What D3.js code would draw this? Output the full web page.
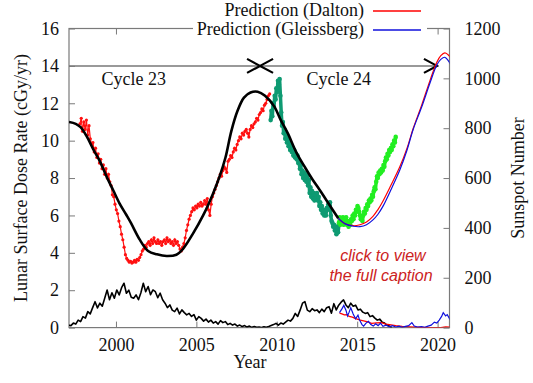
<!DOCTYPE html>
<html><head><meta charset="utf-8">
<script src="https://cdn.jsdelivr.net/npm/d3@7"></script>
<style>
html,body{margin:0;padding:0;background:#fff;}
svg{display:block;}
</style></head><body>
<svg id="chart" width="533" height="383"></svg>
<script>
// ---------------- data ----------------
const xTicks = [2000, 2005, 2010, 2015, 2020];
const yLeftTicks = [0, 2, 4, 6, 8, 10, 12, 14, 16];
const yRightTicks = [0, 200, 400, 600, 800, 1000, 1200];

// measured dose rate, cycle 23 (red)
const redStart = 1997.76, redStep = 0.0808;
const redDose = [10.9,11.2,10.5,11.0,10.6,11.1,10.3,10.8,10.1,9.8,9.9,9.4,9.6,9.1,9.3,8.8,9.0,8.5,8.7,8.2,8.5,8.0,8.2,7.8,7.6,7.1,7.0,6.6,6.3,6.1,
5.7,5.4,5.0,4.7,4.3,3.9,3.7,3.6,3.5,3.55,3.45,3.5,3.6,3.5,3.65,3.6,3.75,3.9,4.1,4.2,4.4,4.3,4.5,4.6,4.4,4.7,4.5,4.8,4.6,4.5,
4.7,4.5,4.6,4.4,4.6,4.7,4.5,4.8,4.6,4.7,4.5,4.6,4.4,4.7,4.5,4.6,4.4,4.2,4.1,4.3,4.5,4.8,5.2,5.5,5.8,6.0,6.2,6.4,6.3,6.5,
6.4,6.6,6.5,6.7,6.5,6.6,6.8,6.6,6.9,6.3,6.0,6.6,7.0,7.2,7.4,7.6,7.8,8.0,8.2,8.1,8.4,8.6,8.5,8.3,8.9,9.0,9.2,9.1,9.4,9.6,
9.5,9.8,10.0,10.2,10.1,10.4,10.3,10.5,10.6,10.4,10.2,10.6,10.8,10.7,10.9,11.0,11.2,11.1,11.4,11.5,11.7,11.6,11.9,12.0,12.2,12.4,12.5];

// measured dose rate, cycle 24 first part (teal)
const tealStart = 2009.62, tealStep = 0.0505;
const tealDose = [11.1,11.6,11.3,12.0,11.8,12.4,12.2,12.8,12.6,13.2,13.0,13.3,12.4,11.5,10.8,11.0,10.4,10.6,10.1,10.3,
9.9,10.1,9.7,9.9,9.5,9.8,9.4,9.6,9.2,9.5,9.1,9.3,9.0,9.2,8.8,8.9,8.5,8.7,8.2,8.4,
8.0,8.3,7.9,8.2,7.8,8.1,7.6,7.9,7.2,7.5,7.0,7.3,6.9,7.2,6.8,7.1,6.9,7.2,6.8,7.0,
6.5,6.7,6.3,6.5,6.1,6.3,6.0,6.2,6.0,6.4,6.3,6.6,6.5,6.7,6.0,5.7,5.6,5.4,5.5,5.2,
5.4,5.0,5.3,5.1,5.5];

// measured dose rate, cycle 24 second part (bright green)
const limeStart = 2013.86, limeStep = 0.0505;
const limeDose = [5.6,5.9,5.5,5.8,5.6,5.9,5.5,5.8,5.6,5.9,5.5,5.7,5.4,5.7,5.5,5.8,5.7,6.0,5.8,6.1,
6.0,6.3,6.2,6.5,6.4,6.2,6.0,5.8,5.9,5.7,6.0,6.2,6.1,6.4,6.3,6.6,6.5,6.8,6.7,6.9,
6.8,7.1,7.0,7.3,7.5,7.4,7.8,8.1,8.0,8.3,8.2,8.4,8.3,8.5,8.4,8.7,8.6,8.9,9.1,9.0,
9.3,9.2,9.5,9.4,9.6,9.5,9.8,9.7,10.0,9.9,10.2];

// model dose rate (black)
const modelYears = [1997.08,1997.50,1997.80,1998.20,1998.61,1999.01,1999.42,1999.82,2000.22,2000.63,2000.93,2001.49,2002.00,2002.55,2003.15,2003.76,2004.16,2004.77,2005.42,2006.04,
2006.45,2006.81,2007.17,2007.56,2007.96,2008.37,2008.81,2009.27,2009.85,2010.25,2010.68,2011.23,2011.77,2012.20,2012.67,2013.25,2013.82];
const modelDose = [11.0,10.9,10.72,10.2,9.5,8.88,8.07,7.36,6.65,6.05,5.6,4.69,4.1,3.92,3.83,3.9,4.2,5.0,6.0,7.18,
8.1,9.1,10.5,11.6,12.3,12.58,12.62,12.4,11.82,11.1,10.4,9.35,8.55,7.95,7.36,6.6,5.85];

// predictions of dose rate
const predYears = [2013.82,2014.26,2014.77,2015.17,2015.58,2015.98,2016.28,2016.59,2017.09,2017.65,2018.10,2018.48,2019.01,2019.52,2019.95,2020.2,2020.45,2020.65,2020.8];
const daltonDose = [5.85,5.55,5.45,5.5,5.65,5.95,6.3,6.75,7.6,8.6,9.6,10.65,11.9,13.2,14.2,14.55,14.7,14.6,14.45];
const gleissbergDose = [5.85,5.55,5.42,5.4,5.5,5.76,6.05,6.47,7.36,8.43,9.5,10.6,11.8,13.07,14.05,14.35,14.46,14.3,14.1];

// observed sunspot number (black, right axis)
const ssnStart = 1997.05, ssnStep = 0.15;
const ssnObserved = [10,8,18,14,30,24,44,38,64,55,80,104,79,98,86,118,151,112,140,118,
151,131,160,178,138,150,122,118,131,112,140,178,144,165,132,151,144,120,138,112,
98,80,91,70,64,78,55,71,60,51,57,45,52,30,44,37,26,34,22,30,
18,24,14,28,20,24,12,17,10,14,6,10,4,8,2,6,1,4,1,2,
0,3,1,4,8,12,17,10,18,14,22,30,26,37,57,45,70,98,104,70,
64,76,68,71,60,74,64,80,84,58,96,71,90,102,111,91,80,98,86,90,
71,74,62,57,60,44,48,38,30,34,22,18,10,6,0];

// predicted sunspot number
const ssnDaltonYears = [2013.9,2014.05,2014.2,2014.35,2014.5,2014.7,2014.9,2015.05,2015.2,2015.4,2015.6,2015.9,2016.2,2016.5,2016.8,2017.0,2017.4,2017.8,2018.3,2019.0,2019.6,2020.2,2020.5,2020.9];
const ssnDalton = [58,55,51,52,45,42,36,33,30,27,24,17,19,20,14,12,8,5,3,1,0,0,3,2];
const ssnGleissYears = [2013.9,2014.05,2014.17,2014.3,2014.4,2014.5,2014.6,2014.75,2014.9,2015.05,2015.15,2015.3,2015.4,2015.55,2015.7,2015.85,2016.0,2016.15,2016.3,2016.45,
2016.6,2016.8,2017.0,2017.2,2017.4,2017.6,2017.8,2018.0,2018.2,2018.4,2018.55,2018.75,2019.0,2019.2,2019.4,2019.6,2019.8,2019.95,2020.1,2020.25,2020.35,2020.5,2020.6,2020.75,2020.9];
const ssnGleiss = [60,75,89,70,47,62,80,55,35,50,30,12,6,18,25,12,6,15,8,18,
5,10,3,8,2,6,1,5,8,20,6,2,4,1,6,10,22,18,30,45,60,47,52,35,27];

const cycleBounds = [1997.08, 2008.96, 2019.96];
const cycleLabels = ["Cycle 23", "Cycle 24"];
const cycleLabelYears = [2001.1, 2013.85];
const legendNames = ["Prediction (Dalton)", "Prediction (Gleissberg)"];

// ---------------- drawing ----------------
const svg = d3.select("#chart");
const L = 69, R = 449.5, T = 28.5, B = 327.6;
const serif = '"Liberation Serif","Times New Roman",serif';
const x = d3.scaleLinear().domain([1997.08, 2020.74]).range([L, R]);
const yL = d3.scaleLinear().domain([0, 16]).range([B, T]);
const yR = d3.scaleLinear().domain([0, 1200]).range([B, T]);

svg.append("defs").append("clipPath").attr("id", "clip")
  .append("rect").attr("x", L).attr("y", T).attr("width", R - L).attr("height", B - T);

const axisColor = "#7a7a7a";
function styleAxis(g) {
  g.selectAll(".domain").remove();
  g.selectAll(".tick line").attr("stroke", axisColor).attr("stroke-width", 1);
  g.selectAll(".tick text").attr("font-family", serif).attr("font-size", 18).attr("fill", "#111");
}
svg.append("g").attr("transform", `translate(0,${B})`)
  .call(d3.axisBottom(x).tickValues(xTicks).tickFormat(d3.format("d")).tickSizeInner(-6).tickSizeOuter(0).tickPadding(10.5))
  .call(styleAxis);
svg.append("g").attr("transform", `translate(0,${T})`)
  .call(d3.axisTop(x).tickValues(xTicks).tickFormat("").tickSizeInner(-6).tickSizeOuter(0))
  .call(styleAxis);
svg.append("g").attr("transform", `translate(${L},0)`)
  .call(d3.axisLeft(yL).tickValues(yLeftTicks).tickFormat(d3.format("d")).tickSizeInner(-6).tickSizeOuter(0).tickPadding(10))
  .call(styleAxis);
svg.append("g").attr("transform", `translate(${R},0)`)
  .call(d3.axisRight(yR).tickValues(yRightTicks).tickFormat(d3.format("d")).tickSizeInner(-6).tickSizeOuter(0).tickPadding(15))
  .call(styleAxis);

svg.append("rect").attr("x", L).attr("y", T).attr("width", R - L).attr("height", B - T)
  .attr("fill", "none").attr("stroke", axisColor).attr("stroke-width", 1.2);

const plot = svg.append("g").attr("clip-path", "url(#clip)");

function series(start, step, vals) { return vals.map((v, i) => [start + i * step, v]); }
function pairs(xs, vs) { return xs.map((d, i) => [d, vs[i]]); }
const lineL = d3.line().x(d => x(d[0])).y(d => yL(d[1]));
const lineR = d3.line().x(d => x(d[0])).y(d => yR(d[1]));
const smoothL = d3.line().x(d => x(d[0])).y(d => yL(d[1])).curve(d3.curveCatmullRom);

// cycle arrows
const arrowY = yL(14);
plot.append("line").attr("x1", x(cycleBounds[0])).attr("x2", x(cycleBounds[2]))
  .attr("y1", arrowY).attr("y2", arrowY).attr("stroke", "#777").attr("stroke-width", 1.5);
function head(tip, dir) {
  const xt = x(tip);
  plot.append("path").attr("d", `M${xt - dir * 13},${arrowY - 7}L${xt},${arrowY}L${xt - dir * 13},${arrowY + 7}`)
    .attr("fill", "none").attr("stroke", "#000").attr("stroke-width", 2.2);
}
head(cycleBounds[1], 1); head(cycleBounds[1], -1); head(cycleBounds[2], 1);
cycleLabels.forEach((t, i) => {
  svg.append("text").attr("x", x(cycleLabelYears[i])).attr("y", 85).attr("text-anchor", "middle")
    .attr("font-family", serif).attr("font-size", 18).attr("fill", "#111").text(t);
});

// measured dose
const red = series(redStart, redStep, redDose);
plot.append("path").attr("d", lineL(red)).attr("fill", "none").attr("stroke", "#ff1010").attr("stroke-width", 1.2);
plot.selectAll(".rp").data(red).enter().append("circle").attr("cx", d => x(d[0])).attr("cy", d => yL(d[1]))
  .attr("r", 1.6).attr("fill", "#ff1010");
const teal = series(tealStart, tealStep, tealDose);
plot.append("path").attr("d", lineL(teal)).attr("fill", "none").attr("stroke", "#0e9a72").attr("stroke-width", 3.5).attr("stroke-linejoin", "round");
plot.selectAll(".tp").data(teal).enter().append("circle").attr("cx", d => x(d[0])).attr("cy", d => yL(d[1]))
  .attr("r", 2.3).attr("fill", "#0e9a72");
const lime = series(limeStart, limeStep, limeDose);
plot.append("path").attr("d", lineL(lime)).attr("fill", "none").attr("stroke", "#22ee22").attr("stroke-width", 3.5).attr("stroke-linejoin", "round");
plot.selectAll(".lp").data(lime).enter().append("circle").attr("cx", d => x(d[0])).attr("cy", d => yL(d[1]))
  .attr("r", 2.3).attr("fill", "#22ee22");

// model
plot.append("path").attr("d", smoothL(pairs(modelYears, modelDose))).attr("fill", "none").attr("stroke", "#000").attr("stroke-width", 2.6);
// predictions
plot.append("path").attr("d", smoothL(pairs(predYears, daltonDose))).attr("fill", "none").attr("stroke", "#ff0000").attr("stroke-width", 1.2);
plot.append("path").attr("d", smoothL(pairs(predYears, gleissbergDose))).attr("fill", "none").attr("stroke", "#1010dd").attr("stroke-width", 1.2);

// sunspots
plot.append("path").attr("d", lineR(series(ssnStart, ssnStep, ssnObserved))).attr("fill", "none").attr("stroke", "#000").attr("stroke-width", 1.6).attr("stroke-linejoin", "round");
plot.append("path").attr("d", lineR(pairs(ssnDaltonYears, ssnDalton))).attr("fill", "none").attr("stroke", "#ff0000").attr("stroke-width", 1.2);
plot.append("path").attr("d", lineR(pairs(ssnGleissYears, ssnGleiss))).attr("fill", "none").attr("stroke", "#1010dd").attr("stroke-width", 1.2);

// legend
svg.append("rect").attr("x", 193).attr("y", 0).attr("width", 234).attr("height", 37).attr("fill", "#fff");
const legColors = ["#ff0000", "#1010dd"];
legendNames.forEach((n, i) => {
  const yy = 11 + i * 19;
  svg.append("text").attr("x", 364).attr("y", yy + 5).attr("text-anchor", "end")
    .attr("font-family", serif).attr("font-size", 18).attr("fill", "#111").text(n);
  svg.append("line").attr("x1", 373).attr("x2", 421).attr("y1", yy).attr("y2", yy)
    .attr("stroke", legColors[i]).attr("stroke-width", 1.3);
});

// axis titles
svg.append("text").attr("transform", `translate(27,${(T + B) / 2}) rotate(-90)`).attr("text-anchor", "middle")
  .attr("font-family", serif).attr("font-size", 18).attr("fill", "#111").text("Lunar Surface Dose Rate (cGy/yr)");
svg.append("text").attr("transform", `translate(524,${(T + B) / 2}) rotate(-90)`).attr("text-anchor", "middle")
  .attr("font-family", serif).attr("font-size", 18).attr("fill", "#111").text("Sunspot Number");
svg.append("text").attr("x", 250).attr("y", 368).attr("text-anchor", "middle")
  .attr("font-family", serif).attr("font-size", 18).attr("fill", "#111").text("Year");

// caption link
const cap = svg.append("text").attr("font-family", '"Liberation Sans",Arial,sans-serif').attr("font-style", "italic")
  .attr("font-size", 16).attr("fill", "#cc2222").attr("text-anchor", "middle");
cap.append("tspan").attr("x", 383).attr("y", 261).text("click to view");
cap.append("tspan").attr("x", 381).attr("y", 281).text("the full caption");
</script></body></html>
